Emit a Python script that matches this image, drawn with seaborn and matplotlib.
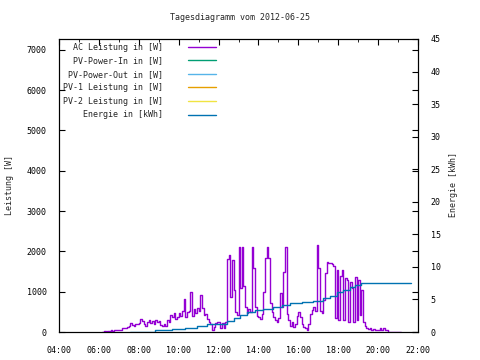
import numpy as np
import pandas as pd
import seaborn as sns
import matplotlib.pyplot as plt
from matplotlib.ticker import MultipleLocator


# AC Leistung [W], 5-Minuten-Werte, je Stunde eine Liste
ac_06 = [10, 20, 10, 30, 20, 40, 30, 60, 40, 50]  # ab 06:10
ac_07 = [60, 40, 90, 110, 100, 120, 150, 220, 180, 160, 200, 190]
ac_08 = [230, 320, 280, 200, 150, 260, 310, 220, 280, 200, 300, 260]
ac_09 = [270, 180, 140, 200, 150, 300, 260, 430, 380, 470, 330, 360]
ac_10 = [480, 400, 520, 820, 360, 500, 520, 1000, 400, 560, 470, 600]
ac_11 = [520, 920, 600, 420, 450, 330, 250, 200, 40, 120, 220, 260]
ac_12 = [250, 110, 220, 90, 240, 1810, 1910, 870, 1780, 1050, 500, 420]
ac_13 = [2110, 1100, 2100, 1150, 620, 470, 580, 500, 2110, 1600, 620, 400]
ac_14 = [370, 320, 440, 1000, 1830, 2110, 1830, 720, 500, 370, 300, 250]
ac_15 = [350, 970, 620, 1490, 2110, 450, 300, 150, 250, 130, 200, 400]
ac_16 = [500, 370, 200, 130, 100, 60, 200, 450, 550, 620, 520, 2160]
ac_17 = [1590, 520, 470, 800, 1460, 1740, 1720, 1700, 1680, 1640, 350, 1550]
ac_18 = [300, 1400, 1550, 300, 1350, 1300, 250, 1250, 1100, 250, 1360, 300]
ac_19 = [1300, 420, 1050, 250, 150, 110, 70, 90, 60, 80, 60, 50]
ac_20 = [40, 90, 60, 90, 50, 40, 10, 10, 10, 10, 10, 10]
ac_21 = [10, 10, 0]

# Energie [kWh]
energy_time = ['07:35', '08:50', '09:40', '10:20', '10:55', '11:25', '12:25', '12:45',
               '13:05', '13:25', '13:50', '14:15', '14:45', '15:10', '15:35', '16:10',
               '16:45', '17:15', '17:35', '17:55', '18:15', '18:35', '18:50', '19:10',
               '20:30', '21:40']
energy_kwh = [0.0, 0.26, 0.46, 0.66, 0.97, 1.3, 1.73, 2.2,
              2.6, 3.0, 3.37, 3.6, 3.78, 4.1, 4.4, 4.6,
              4.8, 5.15, 5.6, 6.17, 6.5, 6.84, 7.15, 7.45,
              7.6, 7.6]

x_ticks = [4, 6, 8, 10, 12, 14, 16, 18, 20, 22]
x_labels = ['04:00', '06:00', '08:00', '10:00', '12:00', '14:00', '16:00', '18:00', '20:00', '22:00']

legend_labels = ['AC Leistung in [W]', 'PV-Power-In in [W]', 'PV-Power-Out in [W]',
                 'PV-1 Leistung in [W]', 'PV-2 Leistung in [W]', 'Energie in [kWh]']
colors = ['#9400d3', '#009e73', '#56b4e9', '#e69f00', '#f0e442', '#0072b2']


def to_hours(s):
    h, m = s.split(':')
    return int(h) + int(m) / 60


ac_values = ac_06 + ac_07 + ac_08 + ac_09 + ac_10 + ac_11 + ac_12 + ac_13 + \
    ac_14 + ac_15 + ac_16 + ac_17 + ac_18 + ac_19 + ac_20 + ac_21
ac_df = pd.DataFrame({
    'zeit': 6 + 10 / 60 + np.arange(len(ac_values)) * 5 / 60,
    'leistung': ac_values,
})
en_df = pd.DataFrame({'zeit': [to_hours(t) for t in energy_time], 'energie': energy_kwh})

sns.set_style('white')
plt.rcParams['font.family'] = ['DejaVu Sans Mono']
plt.rcParams['font.size'] = 6

fig = plt.figure(figsize=(4.8, 3.6), dpi=100)
ax = fig.add_axes([59 / 480, 1 - 332 / 360, 359 / 480, 293 / 360])
ax2 = ax.twinx()

sns.lineplot(data=ac_df, x='zeit', y='leistung', ax=ax, color=colors[0], lw=1.0,
             drawstyle='steps-post', label=legend_labels[0], legend=False)
handles = [ax.lines[0]]
for lab, col in zip(legend_labels[1:5], colors[1:5]):
    h, = ax.plot([], [], color=col, lw=1.0, label=lab)
    handles.append(h)
sns.lineplot(data=en_df, x='zeit', y='energie', ax=ax2, color=colors[5], lw=1.0,
             drawstyle='steps-post', legend=False)
handles.append(ax2.lines[0])

ax.set_xlim(4, 22)
ax.set_ylim(0, 7270)
ax2.set_ylim(0, 45)
ax.set_xticks(x_ticks)
ax.set_xticklabels(x_labels)
ax.xaxis.set_minor_locator(MultipleLocator(1))
ax.set_yticks(range(0, 8000, 1000))
ax2.set_yticks(range(0, 50, 5))
ax.set_xlabel('')
ax.set_ylabel('')
ax2.set_ylabel('')

ax.tick_params(axis='both', which='both', direction='in', top=True, right=True,
               colors='black', labelsize=6)
ax.tick_params(axis='x', which='major', length=4, pad=10)
ax.tick_params(axis='x', which='minor', length=2.5)
ax.tick_params(axis='y', which='major', length=4, pad=9)
ax2.tick_params(axis='y', direction='in', length=4, pad=9, labelsize=6, colors='black')
for a in (ax, ax2):
    for sp in a.spines.values():
        sp.set_color('black')
        sp.set_linewidth(0.8)

width = max(len(l) for l in legend_labels)
ax2.legend(handles, [l.rjust(width) for l in legend_labels], loc='upper left',
           bbox_to_anchor=(4 / 359, 0.988), frameon=False, markerfirst=False,
           borderpad=0, borderaxespad=0, handlelength=3.4, handletextpad=3.0,
           labelspacing=0.55, fontsize=6)

fig.text(0.5, 1 - 18 / 360, 'Tagesdiagramm vom 2012-06-25', ha='center', va='center', fontsize=6)
fig.text(10 / 480, 1 - 185 / 360, 'Leistung [W]', rotation=90, ha='center', va='center', fontsize=6)
fig.text(453 / 480, 1 - 185 / 360, 'Energie [kWh]', rotation=90, ha='center', va='center', fontsize=6)

fig.savefig('out.png', dpi=100)
